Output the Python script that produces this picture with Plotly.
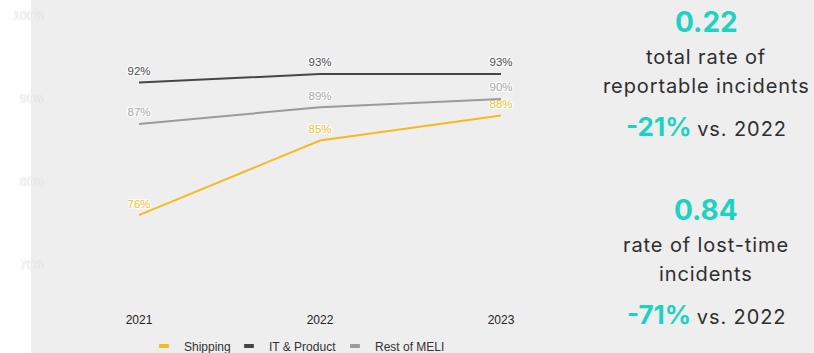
import plotly.graph_objects as go

# Share of ... by business unit, per year
years = ["2021", "2022", "2023"]
shipping = [76, 85, 88]
it_product = [92, 93, 93]
rest_meli = [87, 89, 90]

series_names = ["Shipping", "IT & Product", "Rest of MELI"]
line_colors = ["#f2bb1f", "#464646", "#9b9b9b"]
label_colors = ["#f2c12e", "#4a4a4a", "#a8a8a8"]
legend_left_px = [144, 229, 335]

y_ticks = [70, 80, 90, 100]
y_tick_text = ["70%", "80%", "90%", "100%"]

# Key figures shown on the right
kpi_values = ["0.22", "0.84"]
kpi_captions = [["total rate of", "reportable incidents"], ["rate of lost-time", "incidents"]]
kpi_changes = ["-21%", "-71%"]
kpi_ref = "vs. 2022"

W, H = 814, 353
ML, MR, MT, MB = 45, 234, 10, 48
PW, PH = W - ML - MR, H - MT - MB


def px(x):
    return (x - ML) / PW


def py(y):
    return (H - MB - y) / PH


TEAL = "#1ed2c2"
DARK = "#2e2e2e"
KPI_FONT = "Inter"
WHITE_HALO = "1px 1px 0 #fff, -1px -1px 0 #fff, 1px -1px 0 #fff, -1px 1px 0 #fff"


def spaced(s, ls=0.9):
    return f"<span style='letter-spacing:{ls}px'>{s}</span>"


fig = go.Figure()
xs = list(range(len(years)))
legends = {}
for k, (name, vals, lc, tc) in enumerate(
        zip(series_names, [shipping, it_product, rest_meli], line_colors, label_colors)):
    fig.add_trace(go.Scatter(
        x=xs, y=vals, mode="lines+markers+text", name=name,
        line=dict(color=lc, width=2),
        marker=dict(size=6, opacity=0),
        text=[f"{v}%" for v in vals], textposition="top center",
        textfont=dict(family="Liberation Sans, Arial", size=11.5, color=tc, shadow=WHITE_HALO),
        showlegend=False, hoverinfo="skip",
    ))
    # legend entry with a short thick swatch, one legend box per series
    lg = "legend" if k == 0 else f"legend{k + 1}"
    fig.add_trace(go.Scatter(
        x=[None], y=[None], mode="markers", name=name, legend=lg,
        marker=dict(symbol="line-ew", size=7, line=dict(color=lc, width=4)),
        showlegend=True,
    ))
    legends[lg] = dict(orientation="h", x=px(legend_left_px[k]), y=py(346),
                       xanchor="left", yanchor="middle",
                       font=dict(family="Liberation Sans, Arial", size=12, color="#333333"),
                       bgcolor="rgba(0,0,0,0)", itemwidth=30)

annotations = []
for i, (val, caps, chg) in enumerate(zip(kpi_values, kpi_captions, kpi_changes)):
    off = i * 188
    cx = px(706)
    annotations.append(dict(x=cx, y=py(22 + off), text=f"<b>{val}</b>",
                            font=dict(family=KPI_FONT, size=28, color=TEAL)))
    annotations.append(dict(x=cx, y=py(57 + off), text=spaced(caps[0]),
                            font=dict(family=KPI_FONT, size=20, color=DARK)))
    annotations.append(dict(x=cx, y=py(86 + off), text=spaced(caps[1]),
                            font=dict(family=KPI_FONT, size=20, color=DARK)))
    annotations.append(dict(
        x=cx, y=py(126 + off),
        text=f"<span style='font-size:26px;color:{TEAL}'><b>{chg}</b></span> {spaced(kpi_ref)}",
        font=dict(family=KPI_FONT, size=20, color=DARK)))
for a in annotations:
    a.update(xref="paper", yref="paper", showarrow=False, xanchor="center", yanchor="middle")

fig.update_layout(
    width=W, height=H,
    margin=dict(l=ML, r=MR, t=MT, b=MB, autoexpand=False),
    paper_bgcolor="#eeeeee",
    plot_bgcolor="#eeeeee",
    annotations=annotations,
    shapes=[dict(type="rect", xref="paper", yref="paper",
                 x0=px(-5), x1=px(31), y0=py(H + 5), y1=py(-5),
                 fillcolor="#ffffff", line=dict(width=0), layer="below")],
    showlegend=True,
    **legends,
    xaxis=dict(range=[-(139 - ML) / 181, -(139 - ML) / 181 + PW / 181],
               tickvals=xs, ticktext=years, showgrid=False, zeroline=False,
               showline=False, ticks="", ticklabelstandoff=6,
               tickfont=dict(family="Liberation Sans, Arial", size=12, color="#222222")),
    yaxis=dict(range=[70 - (H - MB - 265) / 8.3, 100 + (16 - MT) / 8.3],
               tickvals=y_ticks, ticktext=y_tick_text, showgrid=False, zeroline=False,
               showline=False, ticks="",
               tickfont=dict(family="Liberation Sans, Arial", size=12, color="#ffffff",
                             shadow="0 0 1px #b0b0b0")),
)

fig.write_html("out.html")
